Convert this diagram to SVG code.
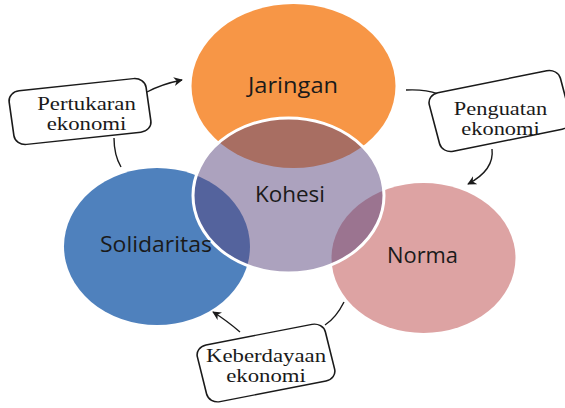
<svg xmlns="http://www.w3.org/2000/svg" width="565" height="408" viewBox="0 0 565 408">
  <defs>
    <marker id="arrow" viewBox="0 0 10 10" refX="9" refY="5" markerWidth="9" markerHeight="9" markerUnits="userSpaceOnUse" orient="auto">
      <path d="M0,0 L10,5 L0,10 L3,5 z" fill="#1a1a1a"/>
    </marker>
    <style>
      .hub { font-family: "Open Sans", "Liberation Sans", sans-serif; font-size: 21px; fill: #1a1a1a; text-anchor: middle; }
      .lbl { font-family: "Liberation Serif", "Times New Roman", serif; font-size: 19px; fill: #1a1a1a; text-anchor: middle; }
      .box { fill: #ffffff; stroke: #1a1a1a; stroke-width: 1.4; }
      .link { fill: none; stroke: #1a1a1a; stroke-width: 1.4; }
    </style>
  </defs>
  <rect width="565" height="408" fill="#ffffff"/>

  <!-- outer circles -->
  <g id="jaringan">
    <ellipse cx="293.5" cy="86" rx="102" ry="82" fill="#F79646"/>
  </g>
  <g id="solidaritas">
    <ellipse cx="157" cy="246.5" rx="93" ry="78.5" fill="#4F81BD"/>
  </g>
  <g id="norma">
    <ellipse cx="423.5" cy="258" rx="92" ry="75" fill="#DDA3A3"/>
  </g>

  <!-- centre circle, translucent over the others -->
  <g id="kohesi">
    <ellipse cx="288.5" cy="195.5" rx="95.5" ry="77.5" fill="#59457D" fill-opacity="0.5" stroke="#ffffff" stroke-width="3"/>
  </g>

  <!-- circle titles -->
  <g id="circle-titles">
    <text class="hub" x="293" y="93" textLength="90" lengthAdjust="spacingAndGlyphs">Jaringan</text>
    <text class="hub" x="290" y="202" textLength="70" lengthAdjust="spacingAndGlyphs">Kohesi</text>
    <text class="hub" x="156" y="252" textLength="112" lengthAdjust="spacingAndGlyphs">Solidaritas</text>
    <text class="hub" x="422.5" y="263" textLength="71" lengthAdjust="spacingAndGlyphs">Norma</text>
  </g>

  <!-- connectors -->
  <g id="connectors">
    <path class="link" d="M147,92 Q162,84 182,80" marker-end="url(#arrow)"/>
    <path class="link" d="M121,167 Q114,155 114,138"/>
    <path class="link" d="M406,90 Q425,89 438,94"/>
    <path class="link" d="M492,149 C494,165 483,176 468,184" marker-end="url(#arrow)"/>
    <path class="link" d="M344,302 Q336,318 325,325"/>
    <path class="link" d="M240,332 Q226,320 213,312" marker-end="url(#arrow)"/>
  </g>

  <!-- labels on the cycle; text is widened to the labels' proportions -->
  <g id="pertukaran-ekonomi">
    <rect class="box" x="-60" y="-27" width="120" height="54" rx="10" transform="translate(80,111.5) scale(1.15,1) rotate(-7)"/>
    <g transform="translate(86.5,0) scale(1.2,1)">
      <text class="lbl" x="0" y="110">Pertukaran</text>
      <text class="lbl" x="0" y="130">ekonomi</text>
    </g>
  </g>
  <g id="penguatan-ekonomi">
    <rect class="box" x="-59" y="-30" width="118" height="60" rx="10" transform="translate(500,111) scale(1.14,1) rotate(-13)"/>
    <g transform="translate(500.5,0) scale(1.18,1)">
      <text class="lbl" x="0" y="115.5">Penguatan</text>
      <text class="lbl" x="0" y="135.5">ekonomi</text>
    </g>
  </g>
  <g id="keberdayaan-ekonomi">
    <rect class="box" x="-58" y="-29" width="116" height="58" rx="10" transform="translate(266,363) scale(1.13,1) rotate(-12.4)"/>
    <g transform="translate(266,0) scale(1.2,1)">
      <text class="lbl" x="0" y="362.5">Keberdayaan</text>
      <text class="lbl" x="0" y="382.5">ekonomi</text>
    </g>
  </g>
</svg>
